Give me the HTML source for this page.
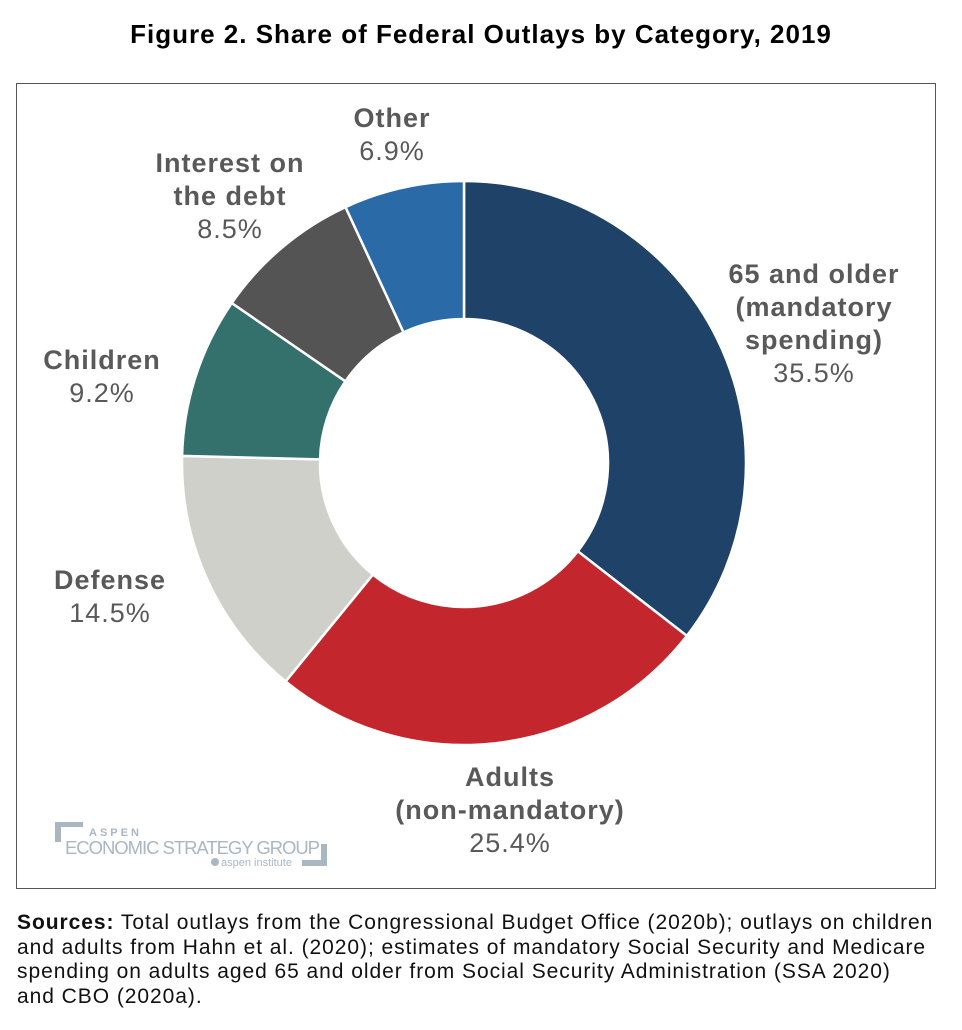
<!DOCTYPE html>
<html><head><meta charset="utf-8"><style>
body{margin:0;width:962px;height:1030px;background:#fff;font-family:"Liberation Sans",sans-serif;position:relative;overflow:hidden}
#title{position:absolute;top:19px;left:0;width:962px;text-align:center;font-weight:bold;font-size:26px;letter-spacing:1px;color:#000}
#frame{position:absolute;left:16px;top:83px;width:918px;height:804px;border:1px solid #555}
#src{position:absolute;left:17px;top:911px;width:940px;font-size:21px;letter-spacing:0.95px;line-height:24.5px;color:#111;white-space:nowrap}
</style></head><body>
<div id="title">Figure 2. Share of Federal Outlays by Category, 2019</div>
<div id="frame"></div>
<svg id="chart" width="962" height="1030" style="position:absolute;left:0;top:0"></svg>
<div id="src"><b>Sources:</b> Total outlays from the Congressional Budget Office (2020b); outlays on children<br>and adults from Hahn et al. (2020); estimates of mandatory Social Security and Medicare<br>spending on adults aged 65 and older from Social Security Administration (SSA 2020)<br>and CBO (2020a).</div>
<script>
const categories=["65 and older (mandatory spending)","Adults (non-mandatory)","Defense","Children","Interest on the debt","Other"];
const values=[35.5,25.4,14.5,9.2,8.5,6.9];
const colors=["#1f4269","#c4262d","#d0d0cb","#35716c","#545454","#2a6aa7"];
const labelLines=[["65 and older","(mandatory","spending)"],["Adults","(non-mandatory)"],["Defense"],["Children"],["Interest on","the debt"],["Other"]];
const labelPos=[[814,283],[510,786],[110,589],[102,369],[230,172],[392,127]];
const NS="http://www.w3.org/2000/svg";
const svg=document.getElementById('chart');
const cx=464,cy=463,R=282,r=144;
const total=values.reduce((a,b)=>a+b,0);
function pt(a,rad){return [cx+rad*Math.sin(a),cy-rad*Math.cos(a)];}
let acc=0;
values.forEach((v,i)=>{
  const a0=acc/total*2*Math.PI;acc+=v;const a1=acc/total*2*Math.PI;
  const lg=(a1-a0)>Math.PI?1:0;
  const p0=pt(a0,R),p1=pt(a1,R),q1=pt(a1,r),q0=pt(a0,r);
  const p=document.createElementNS(NS,'path');
  p.setAttribute('d',`M${p0}A${R},${R} 0 ${lg} 1 ${p1}L${q1}A${r},${r} 0 ${lg} 0 ${q0}Z`);
  p.setAttribute('fill',colors[i]);p.setAttribute('stroke','#fff');p.setAttribute('stroke-width','2.5');
  
  
  svg.appendChild(p);
  const t=document.createElementNS(NS,'text');
  t.setAttribute('text-anchor','middle');t.setAttribute('font-size','27');t.setAttribute('letter-spacing','1');t.setAttribute('fill','#595959');
  t.setAttribute('font-family','Liberation Sans, sans-serif');
  
  
  const [lx,ly]=labelPos[i];
  const lines=labelLines[i].concat([v.toFixed(1)+'%']);
  lines.forEach((s,j)=>{const ts=document.createElementNS(NS,'tspan');ts.setAttribute('x',lx);ts.setAttribute('y',ly+j*33);
    if(j<lines.length-1)ts.setAttribute('font-weight','bold');ts.textContent=s;t.appendChild(ts);});
  svg.appendChild(t);
});
</script>
<svg width="300" height="60" style="position:absolute;left:55px;top:822px">
<path d="M0,0H28V5H6V20H0Z" fill="#a9b7c3"/>
<path d="M272,22V44H247V38H266V22Z" fill="#a9b7c3"/>
<text x="34" y="14" font-size="11" font-weight="bold" letter-spacing="3" fill="#a9b7c3" font-family="Liberation Sans,sans-serif">ASPEN</text>
<text x="10" y="32" font-size="18.5" fill="#a9b7c3" font-family="Liberation Sans,sans-serif" textLength="255" lengthAdjust="spacing">ECONOMIC STRATEGY GROUP</text>
<circle cx="160" cy="40" r="4" fill="#a9b7c3"/>
<text x="166" y="44" font-size="11" fill="#a9b7c3" font-family="Liberation Sans,sans-serif">aspen institute</text>
</svg>
</body></html>
